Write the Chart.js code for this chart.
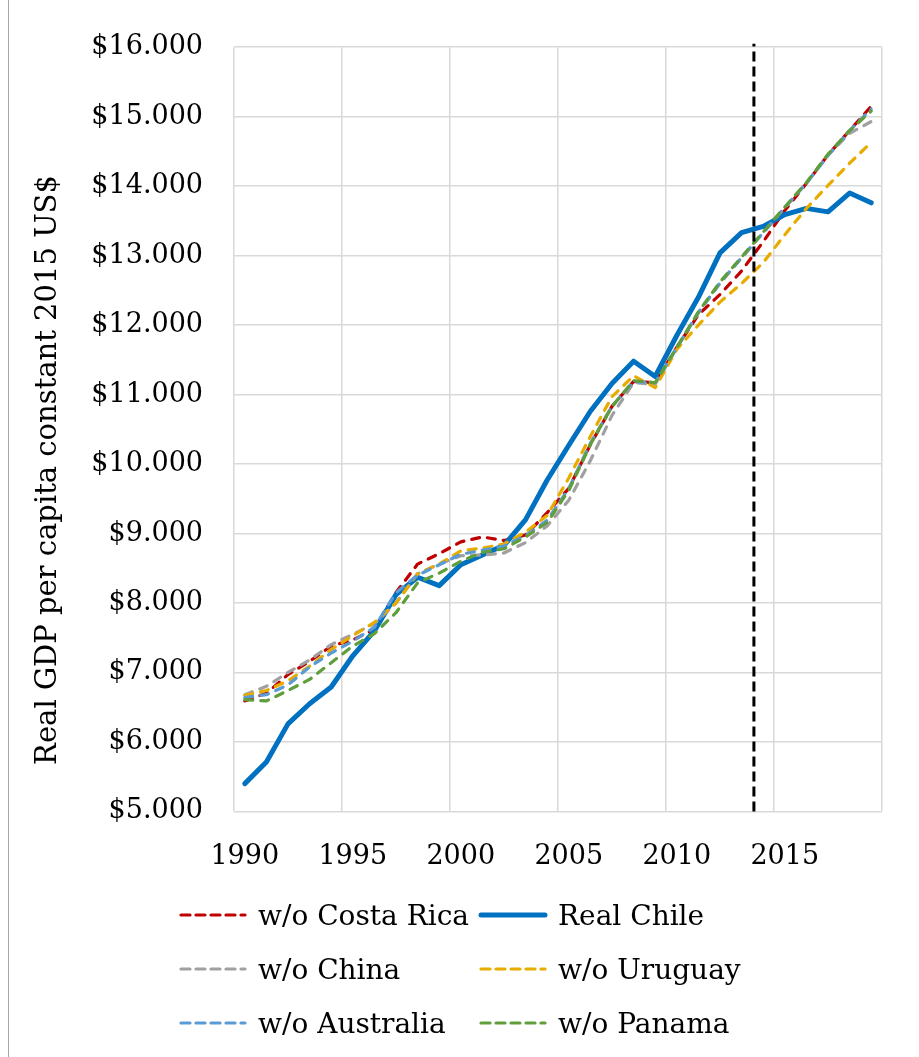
<!DOCTYPE html>
<html>
<head>
<meta charset="utf-8">
<script src="https://cdn.jsdelivr.net/npm/chart.js@4.4.1/dist/chart.umd.min.js"></script>
<style>
    html, body { margin: 0; padding: 0; background: #fff; }
    #wrap { position: relative; width: 919px; height: 1057px; overflow: hidden; font-family: "DejaVu Serif", serif; }
    #frame { position: absolute; left: 8px; top: 0; bottom: 0; border-left: 1px solid #a6a6a6; }
    #chart { position: absolute; left: 0; top: 0; }
    #legend { position: absolute; left: 178px; top: 888px; display: grid; grid-template-columns: 300px 300px; grid-auto-rows: 54px; }
    .item { display: flex; align-items: center; font-size: 28px; color: #000; white-space: nowrap; }
    .item svg { margin-right: 10px; flex: none; }
</style>
</head>
<body>
<div id="wrap">
    <div id="frame"></div>
    <canvas id="chart" width="919" height="890"></canvas>
    <div id="legend"></div>
</div>
<script>
// ---------------- DATA ----------------
const years = [
    1990, 1991, 1992, 1993, 1994, 1995, 1996, 1997, 1998, 1999,
    2000, 2001, 2002, 2003, 2004, 2005, 2006, 2007, 2008, 2009,
    2010, 2011, 2012, 2013, 2014, 2015, 2016, 2017, 2018, 2019,
];
const tickYears = [1990, 1995, 2000, 2005, 2010, 2015];
const cutoffYear = 2013.57;

const realChile = [
    5400, 5710, 6260, 6550, 6790, 7240, 7600, 8120, 8370, 8250,
    8550, 8690, 8830, 9200, 9770, 10270, 10760, 11160, 11480, 11260,
    11850, 12400, 13040, 13330, 13420, 13590, 13680, 13630, 13900, 13760,
];
const woCostaRica = [
    6590, 6700, 6970, 7160, 7380, 7470, 7620, 8150, 8560, 8710,
    8880, 8950, 8900, 8980, 9300, 9650, 10280, 10830, 11190, 11170,
    11680, 12150, 12440, 12780, 13200, 13650, 14040, 14450, 14800, 15150,
];
const woChina = [
    6680, 6800, 7000, 7180, 7400, 7550, 7700, 8000, 8420, 8560,
    8680, 8690, 8720, 8870, 9110, 9480, 10050, 10700, 11170, 11150,
    11680, 12180, 12600, 12970, 13330, 13690, 14050, 14450, 14760, 14930,
];
const woUruguay = [
    6670, 6740, 6880, 7090, 7330, 7530, 7720, 8000, 8420, 8560,
    8750, 8790, 8850, 9020, 9260, 9800, 10400, 10970, 11270, 11100,
    11650, 12000, 12330, 12600, 12900, 13300, 13680, 14010, 14330, 14630,
];
const woAustralia = [
    6640, 6680, 6820, 7080, 7280, 7450, 7650, 8150, 8400, 8550,
    8700, 8760, 8820, 8970, 9190, 9650, 10300, 10830, 11190, 11170,
    11670, 12180, 12610, 12970, 13330, 13690, 14040, 14440, 14800, 15110,
];
const woPanama = [
    6610, 6590, 6740, 6900, 7140, 7380, 7560, 7860, 8290, 8430,
    8600, 8730, 8780, 8950, 9160, 9620, 10280, 10830, 11200, 11170,
    11680, 12190, 12620, 12980, 13340, 13700, 14050, 14460, 14800, 15080,
];

const Y_TITLE = "Real GDP per capita constant 2015 US$";
const FONT = "'DejaVu Serif', serif";

// ---------------- SERIES ----------------
// legend order (Excel order); Excel paints the last one on top
const series = [
    { label: "w/o Costa Rica", data: woCostaRica, color: "#c00000", dashed: true },
    { label: "Real Chile", data: realChile, color: "#0070c0", dashed: false },
    { label: "w/o China", data: woChina, color: "#a0a0a0", dashed: true },
    { label: "w/o Uruguay", data: woUruguay, color: "#e8ac00", dashed: true },
    { label: "w/o Australia", data: woAustralia, color: "#5b9bd5", dashed: true },
    { label: "w/o Panama", data: woPanama, color: "#5f9e3a", dashed: true },
];

const toPoints = (vals) => years.map((yr, i) => ({ x: yr, y: vals[i] }));

const lineDatasets = series.map((s) => ({
    label: s.label,
    data: toPoints(s.data),
    borderColor: s.color,
    backgroundColor: s.color,
    borderWidth: s.dashed ? 3.2 : 5,
    borderDash: s.dashed ? [8, 8] : [],
    borderCapStyle: "round",
    borderJoinStyle: "round",
    pointRadius: 0,
    tension: 0,
})).reverse();

const cutoffDataset = {
    label: "cutoff",
    data: [{ x: cutoffYear, y: 5000 }, { x: cutoffYear, y: 16050 }],
    borderColor: "#000",
    borderWidth: 3,
    borderDash: [10, 5],
    borderCapStyle: "butt",
    pointRadius: 0,
    clip: false,
};

// ---------------- Y TITLE ----------------
const yTitlePlugin = {
    id: "yTitle",
    afterDraw(chart) {
        const ctx = chart.ctx;
        ctx.save();
        ctx.translate(48, 470);
        ctx.rotate(-Math.PI / 2);
        ctx.font = "29px " + FONT;
        ctx.fillStyle = "#000";
        ctx.textAlign = "center";
        ctx.textBaseline = "middle";
        ctx.fillText(Y_TITLE, 0, 0);
        ctx.restore();
    }
};

const gridYears = tickYears.map((y) => y - 0.5).concat([years[years.length - 1] + 0.5]);

// ---------------- CHART ----------------
new Chart(document.getElementById("chart"), {
    type: "line",
    data: { datasets: [cutoffDataset, ...lineDatasets] },
    options: {
        responsive: false,
        animation: false,
        devicePixelRatio: 1,
        layout: { padding: { left: 0, right: 37, top: 41, bottom: 0 } },
        plugins: {
            legend: { display: false },
            tooltip: { enabled: false },
        },
        scales: {
            x: {
                type: "linear",
                min: years[0] - 0.5,
                max: years[years.length - 1] + 0.5,
                afterBuildTicks: (scale) => {
                    scale.ticks = gridYears.map((v) => ({ value: v }));
                },
                afterFit: (scale) => { scale.height = 890 - 811.4; },
                grid: { color: "#d9d9d9", lineWidth: 1.5, drawTicks: false },
                border: { display: false },
                ticks: {
                    autoSkip: false,
                    maxRotation: 0,
                    padding: 29,
                    labelOffset: 10.8,
                    color: "#000",
                    font: { family: FONT, size: 27 },
                    callback: (v) => tickYears.includes(v + 0.5) ? String(v + 0.5) : "",
                },
            },
            y: {
                min: 5000,
                max: 16000,
                afterFit: (scale) => { scale.width = 234; },
                grid: { color: "#d9d9d9", lineWidth: 1.5, drawTicks: false },
                border: { display: false },
                ticks: {
                    stepSize: 1000,
                    padding: 31,
                    color: "#000",
                    font: { family: FONT, size: 27 },
                    callback: (v) => "$" + (v / 1000) + ".000",
                },
            },
        },
    },
    plugins: [yTitlePlugin],
});

// ---------------- LEGEND ----------------
const legendEl = document.getElementById("legend");
series.forEach((s) => {
    const item = document.createElement("div");
    item.className = "item";
    const dash = s.dashed ? 'stroke-dasharray="9 6" stroke-width="3.2"' : 'stroke-width="5"';
    item.innerHTML =
        '<svg width="70" height="12"><line x1="3" y1="6" x2="67" y2="6" stroke="' + s.color +
        '" stroke-linecap="round" ' + dash + '/></svg><span>' + s.label + '</span>';
    legendEl.appendChild(item);
});
</script>
</body>
</html>
